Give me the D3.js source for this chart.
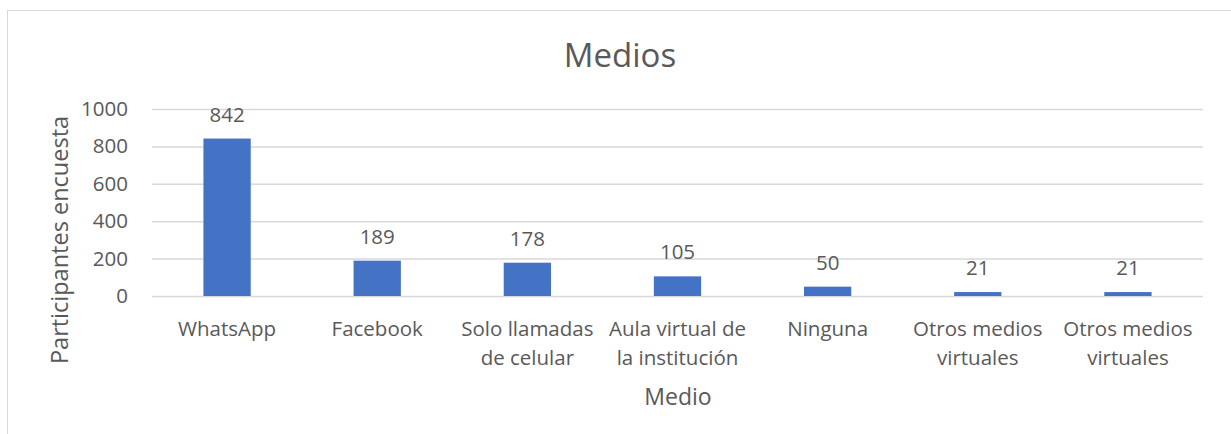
<!DOCTYPE html>
<html>
<head>
<meta charset="utf-8">
<script src="https://cdn.jsdelivr.net/npm/d3@7"></script>
<style>
  body { margin: 0; background: #fff; }
  text { font-family: "Open Sans", sans-serif; fill: #595959; }
</style>
</head>
<body>
<div id="chart"></div>
<script>
// data
const categories = ['WhatsApp', 'Facebook', 'Solo llamadas de celular', 'Aula virtual de la institución', 'Ninguna', 'Otros medios virtuales', 'Otros medios virtuales']
const labelLines = [['WhatsApp'], ['Facebook'], ['Solo llamadas', 'de celular'], ['Aula virtual de', 'la institución'], ['Ninguna'], ['Otros medios', 'virtuales'], ['Otros medios', 'virtuales']]
const values = [842, 189, 178, 105, 50, 21, 21]
const yTicks = [0, 200, 400, 600, 800, 1000]

const width = 1231,
  height = 434
const plot = { left: 152, right: 1203, top: 109, bottom: 296 }
const fs = '20.5px'

let svg = d3.select('#chart')
  .append('svg')
  .attr('width', width)
  .attr('height', height)

// chart border
svg.append('rect')
  .attr('x', 7.5).attr('y', 10.5)
  .attr('width', 1240).attr('height', 440)
  .attr('fill', 'none')
  .attr('stroke', '#d9d9d9')

const idx = categories.map((d, i) => i)

const xScale = d3.scaleBand()
  .domain(idx)
  .range([plot.left, plot.right])
  .paddingInner(0.685)
  .paddingOuter(0.3425)

const yScale = d3.scaleLinear()
  .domain([0, 1000])
  .range([plot.bottom, plot.top])

// gridlines + y labels
const yAxis = d3.axisLeft(yScale).tickValues(yTicks).tickFormat(d3.format('d'))
  .tickSize(-(plot.right - plot.left)).tickPadding(24)
const gy = svg.append('g')
  .attr('transform', `translate(${plot.left},0)`)
  .call(yAxis)
gy.select('.domain').remove()
gy.selectAll('line').attr('stroke', '#d9d9d9').attr('stroke-width', 1.5)
gy.selectAll('text').style('font-size', fs).attr('fill', '#595959')

// bars
svg.selectAll('rect.bar')
  .data(values)
  .enter()
  .append('rect')
  .attr('class', 'bar')
  .attr('fill', '#4472c4')
  .attr('x', (d, i) => xScale(i))
  .attr('y', d => yScale(d))
  .attr('width', xScale.bandwidth())
  .attr('height', d => yScale(0) - yScale(d))

// value labels
svg.selectAll('text.val')
  .data(values)
  .enter()
  .append('text')
  .attr('class', 'val')
  .attr('x', (d, i) => xScale(i) + xScale.bandwidth() / 2)
  .attr('y', d => yScale(d) - 17)
  .attr('text-anchor', 'middle')
  .style('font-size', fs)
  .text(d => d)

// x labels
const xl = svg.selectAll('text.xl')
  .data(labelLines)
  .enter()
  .append('text')
  .attr('class', 'xl')
  .attr('text-anchor', 'middle')
  .style('font-size', fs)
xl.selectAll('tspan')
  .data((d, i) => d.map(t => ({ t, i })))
  .enter()
  .append('tspan')
  .attr('x', d => xScale(d.i) + xScale.bandwidth() / 2)
  .attr('y', (d, j) => 336 + j * 29)
  .text(d => d.t)

// titles
svg.append('text')
  .attr('x', 620).attr('y', 67)
  .attr('text-anchor', 'middle')
  .style('font-size', '33px')
  .text('Medios')

svg.append('text')
  .attr('x', 678).attr('y', 405)
  .attr('text-anchor', 'middle')
  .style('font-size', '23px')
  .text('Medio')

svg.append('text')
  .attr('transform', 'translate(68,240) rotate(-90)')
  .attr('text-anchor', 'middle')
  .style('font-size', '23.5px')
  .text('Participantes encuesta')
</script>
</body>
</html>
